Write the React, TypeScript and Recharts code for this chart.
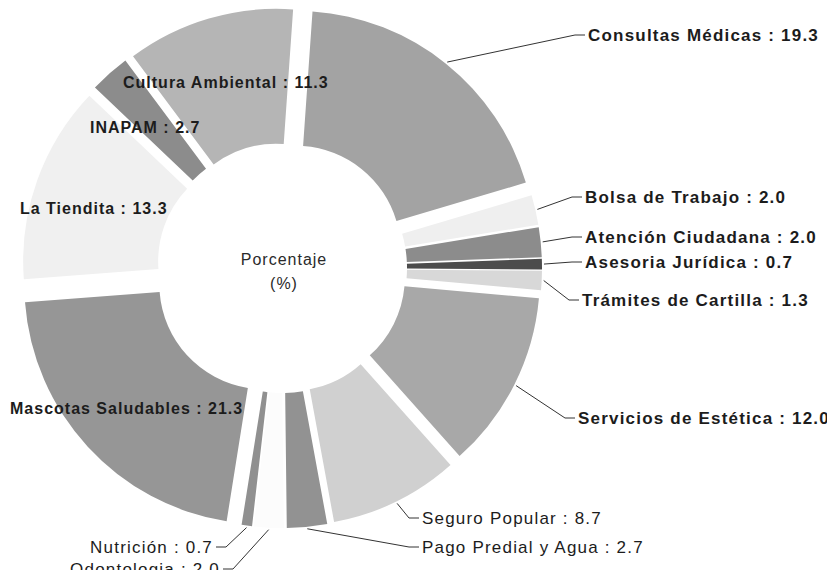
import React from "react";
import { PieChart, Pie, Sector } from "recharts";

// --- data (percent of services) ---
const categories = [
  "Consultas Médicas",
  "Bolsa de Trabajo",
  "Atención Ciudadana",
  "Asesoria Jurídica",
  "Trámites de Cartilla",
  "Servicios de Estética",
  "Seguro Popular",
  "Pago Predial y Agua",
  "Odontologia",
  "Nutrición",
  "Mascotas Saludables",
  "La Tiendita",
  "INAPAM",
  "Cultura Ambiental",
];
const porcentajes = [19.3, 2.0, 2.0, 0.7, 1.3, 12.0, 8.7, 2.7, 2.0, 0.7, 21.3, 13.3, 2.7, 11.3];
const centerTitle = ["Porcentaje", "(%)"];

// --- styling ---
const fills = [
  "#a3a3a3", "#efefef", "#8c8c8c", "#4c4c4c", "#d8d8d8", "#a8a8a8", "#d0d0d0",
  "#929292", "#fcfcfc", "#909090", "#969696", "#f0f0f0", "#8c8c8c", "#b5b5b5",
];
// how far each segment is pulled out from the centre
const explode = [22, 20, 20, 20, 20, 20, 20, 20, 20, 20, 24, 20, 20, 20];
const RAD = Math.PI / 180;
const FONT = "'Liberation Sans', Arial, sans-serif";
const INK = "#1c1c1c";

// where each label text sits; side r/l = outside with leader, in = over the ring
const labelLayout = [
  { x: 588, y: 35, side: "r", bold: true },
  { x: 585, y: 197, side: "r", bold: true },
  { x: 585, y: 237, side: "r", bold: true },
  { x: 585, y: 262, side: "r", bold: true },
  { x: 582, y: 300, side: "r", bold: true },
  { x: 578, y: 418, side: "r", bold: true },
  { x: 422, y: 518, side: "r", bold: false },
  { x: 422, y: 547, side: "r", bold: false },
  { x: 220, y: 569, side: "l", bold: false },
  { x: 213, y: 547, side: "l", bold: false },
  { x: 10, y: 408, side: "in", bold: true },
  { x: 20, y: 208, side: "in", bold: true },
  { x: 90, y: 127, side: "in", bold: true },
  { x: 123, y: 82, side: "in", bold: true },
];

const pieData = categories.map((name, i) => ({ name, value: porcentajes[i] }));

// exploded ring segment, placed from the angles the Pie computed
const renderSlice = (p: any) => {
  const d = explode[p.index];
  const dx = d * Math.cos(-p.midAngle * RAD);
  const dy = d * Math.sin(-p.midAngle * RAD);
  return (
    <Sector
      cx={p.cx + dx}
      cy={p.cy + dy}
      innerRadius={p.innerRadius}
      outerRadius={p.outerRadius}
      startAngle={p.startAngle}
      endAngle={p.endAngle}
      fill={fills[p.index]}
      stroke="none"
    />
  );
};

const renderLabel = (p: any) => {
  const i = p.index;
  const lay = labelLayout[i];
  const text = `${categories[i]} : ${porcentajes[i].toFixed(1)}`;
  const center =
    i === 0 ? (
      <g>
        <text x={p.cx + 2} y={p.cy - 9} textAnchor="middle" dominantBaseline="central"
          fontFamily={FONT} fontSize={16} letterSpacing={1} fill="#2a2a2a">
          {centerTitle[0]}
        </text>
        <text x={p.cx + 2} y={p.cy + 15} textAnchor="middle" dominantBaseline="central"
          fontFamily={FONT} fontSize={16} letterSpacing={1} fill="#2a2a2a">
          {centerTitle[1]}
        </text>
      </g>
    ) : null;

  if (lay.side === "in") {
    return (
      <g>
        {center}
        <text x={lay.x} y={lay.y} dominantBaseline="central" fontFamily={FONT}
          fontSize={16} fontWeight="bold" letterSpacing={1} fill={INK}>
          {text}
        </text>
      </g>
    );
  }

  const r = p.outerRadius + explode[i] + 2;
  const sx = p.cx + r * Math.cos(-p.midAngle * RAD);
  const sy = p.cy + r * Math.sin(-p.midAngle * RAD);
  const dir = lay.side === "r" ? -1 : 1;
  const ex = lay.x + dir * 3;
  const kx = ex + dir * 10;
  return (
    <g>
      {center}
      <polyline points={`${sx},${sy} ${kx},${lay.y} ${ex},${lay.y}`} fill="none" stroke="#333" strokeWidth={1} />
      <text x={lay.x} y={lay.y} dominantBaseline="central"
        textAnchor={lay.side === "r" ? "start" : "end"} fontFamily={FONT} fontSize={17}
        fontWeight={lay.bold ? "bold" : "normal"} letterSpacing={1.2} fill={INK}>
        {text}
      </text>
    </g>
  );
};

export default function App() {
  return (
    <div style={{ margin: -8, width: 835, height: 578, background: "#fff" }}>
      <PieChart width={835} height={578} margin={{ top: 0, right: 0, bottom: 0, left: 0 }}>
        <Pie
          data={pieData}
          dataKey="value"
          nameKey="name"
          cx={282}
          cy={268}
          innerRadius={105}
          outerRadius={240}
          startAngle={86}
          endAngle={-274}
          fill="none"
          stroke="none"
          label={renderSlice}
          labelLine={false}
          isAnimationActive={false}
        />
        <Pie
          data={pieData}
          dataKey="value"
          nameKey="name"
          cx={282}
          cy={268}
          innerRadius={105}
          outerRadius={240}
          startAngle={86}
          endAngle={-274}
          fill="none"
          stroke="none"
          label={renderLabel}
          labelLine={false}
          isAnimationActive={false}
        />
      </PieChart>
    </div>
  );
}
